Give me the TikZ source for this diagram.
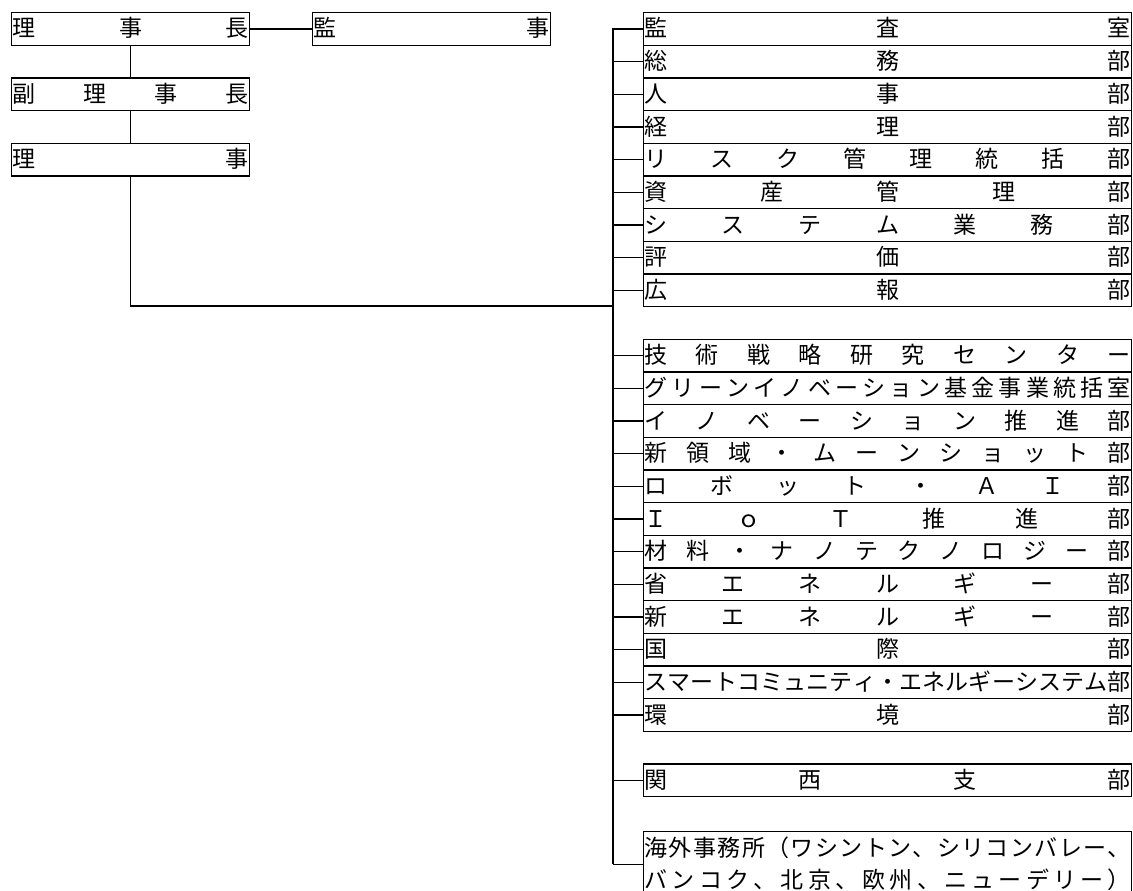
\documentclass[tikz,border=0pt]{standalone}
\usepackage{fontspec}
\newfontfamily\jpfont{Noto Sans CJK JP}
\usetikzlibrary{calc}

\tikzset{
  wire/.style={line width=1.4},
  box/.style={draw, line width=1.4, inner sep=0pt, anchor=north west, minimum height=32.67},
  lbox/.style={box, minimum width=238},
  rbox/.style={box, minimum width=488},
  kana/.style={font=\jpfont\fontsize{23}{23}\selectfont, inner sep=0pt,
    text height=20.2pt, text depth=2.8pt},
}

% letters spread evenly over the width of a box (#2 = drop from its top)
\newcommand{\spreadtext}[3]{%
  \foreach \chr [count=\k] in {#3} {\xdef\nch{\k}}
  \foreach \chr [count=\k] in {#3} {
    \pgfmathsetmacro{\pp}{(\k-1)/(\nch-1)}
    \node[kana] (#1-#2-\k) at ($($(#1.north west)+(13,#2)$)!\pp!($(#1.north east)+(-13,#2)$)$) {\chr};
  }
}

% one department on the right, row #2 of the grid
\newcommand{\dept}[3]{%
  \node[rbox] (#1) at (643,{12+32.67*#2}) {};
  \draw[wire] (#1.west) -- (#1.west -| trunk);
  \spreadtext{#1}{16.3}{#3}
}

\begin{document}
\begin{tikzpicture}[x=1pt, y=-1pt]
  \clip (0,0) rectangle (1133,891);
  \fill[white] (0,0) rectangle (1133,891);

  % board
  \node[lbox] (richo) at (11,12) {};
  \node[lbox] (kanji) at (312,12) {};
  \node[lbox] (fuku) at (11,77.3) {};
  \node[lbox] (riji) at (11,142.7) {};
  \spreadtext{richo}{16.3}{理,事,長}
  \spreadtext{kanji}{16.3}{監,事}
  \spreadtext{fuku}{16.3}{副,理,事,長}
  \spreadtext{riji}{16.3}{理,事}
  \draw[wire] (richo.east) -- (kanji.west);
  \draw[wire] (richo.south) -- (fuku.north);
  \draw[wire] (fuku.south) -- (riji.north);

  \coordinate (trunk) at (613,28.3);
  \coordinate (join) at (613,306);
  \draw[wire] (riji.south) |- (join);

  % departments
  \dept{kansa}{0}{監,査,室}
  \dept{somu}{1}{総,務,部}
  \dept{jinji}{2}{人,事,部}
  \dept{keiri}{3}{経,理,部}
  \dept{risk}{4}{リ,ス,ク,管,理,統,括,部}
  \dept{shisan}{5}{資,産,管,理,部}
  \dept{system}{6}{シ,ス,テ,ム,業,務,部}
  \dept{hyoka}{7}{評,価,部}
  \dept{koho}{8}{広,報,部}

  \dept{gijutsu}{10}{技,術,戦,略,研,究,セ,ン,タ,ー}
  \dept{green}{11}{グ,リ,ー,ン,イ,ノ,ベ,ー,シ,ョ,ン,基,金,事,業,統,括,室}
  \dept{innov}{12}{イ,ノ,ベ,ー,シ,ョ,ン,推,進,部}
  \dept{shinryoiki}{13}{新,領,域,・,ム,ー,ン,シ,ョ,ッ,ト,部}
  \dept{robot}{14}{ロ,ボ,ッ,ト,・,Ａ,Ｉ,部}
  \dept{iot}{15}{Ｉ,ｏ,Ｔ,推,進,部}
  \dept{zairyo}{16}{材,料,・,ナ,ノ,テ,ク,ノ,ロ,ジ,ー,部}
  \dept{shoene}{17}{省,エ,ネ,ル,ギ,ー,部}
  \dept{shinene}{18}{新,エ,ネ,ル,ギ,ー,部}
  \dept{kokusai}{19}{国,際,部}
  \dept{smart}{20}{ス,マ,ー,ト,コ,ミ,ュ,ニ,テ,ィ,・,エ,ネ,ル,ギ,ー,シ,ス,テ,ム,部}
  \dept{kankyo}{21}{環,境,部}

  \dept{kansai}{23}{関,西,支,部}

  % overseas offices, two lines
  \node[rbox, minimum height=65.3] (kaigai) at (643,831) {};
  \draw[wire] (kaigai.west) -- (kaigai.west -| trunk);
  \spreadtext{kaigai}{16.3}{海,外,事,務,所,（,ワ,シ,ン,ト,ン,、,シ,リ,コ,ン,バ,レ,ー,、}
  \spreadtext{kaigai}{49}{バ,ン,コ,ク,、,北,京,、,欧,州,、,ニ,ュ,ー,デ,リ,ー,）}

  \draw[wire] (trunk) -- (trunk |- kaigai.west);
\end{tikzpicture}
\end{document}
